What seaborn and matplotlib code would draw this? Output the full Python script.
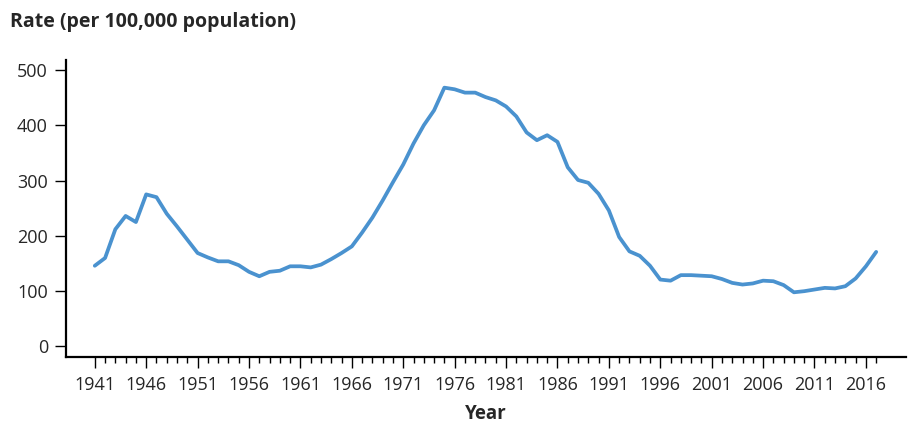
import numpy as np
import pandas as pd
import matplotlib
matplotlib.use("Agg")
import matplotlib.pyplot as plt
import seaborn as sns

# Gonorrhea rates per 100,000 population, 1941-2017
years = list(range(1941, 2018))
rates = [146, 160, 212, 236, 225, 275, 270, 240, 217, 193,
         169, 161, 154, 154, 147, 135, 127, 135, 137, 145,
         145, 143, 148, 158, 169, 181, 206, 233, 264, 297,
         329, 367, 400, 427, 468, 465, 459, 459, 451, 445,
         434, 416, 387, 373, 382, 370, 324, 301, 296, 276,
         246, 198, 172, 164, 146, 121, 119, 129, 129, 128,
         127, 122, 115, 112, 114, 119, 118, 111, 98, 100,
         103, 106, 105, 109, 123, 145, 171]
y_ticks = [0, 100, 200, 300, 400, 500]
x_major = list(range(1941, 2018, 5))

df = pd.DataFrame({"Year": years, "Rate": rates})

sns.set_style("ticks")
plt.rcParams['font.family'] = ['Open Sans', 'DejaVu Sans']

fig = plt.figure(figsize=(9.08, 4.28), dpi=100)
ax = fig.add_axes([66 / 908, 1 - 357 / 428, (906 - 66) / 908, (357 - 60) / 428])

sns.lineplot(data=df, x="Year", y="Rate", color="#4a92cf", linewidth=2.7, ax=ax)

ax.set_xlim(1938.2, 2019.9)
ax.set_ylim(-19, 518)
ax.set_yticks(y_ticks)
ax.set_xticks(x_major)
ax.set_xticks(years, minor=True)
ax.tick_params(axis="both", which="major", labelsize=13, length=8, width=1, color="black", pad=5)
ax.tick_params(axis="x", which="major", pad=6)
ax.tick_params(axis="x", which="minor", length=4, width=1, color="black")
for s in ["top", "right"]:
    ax.spines[s].set_visible(False)
for s in ["left", "bottom"]:
    ax.spines[s].set_linewidth(1.6)
    ax.spines[s].set_color("black")

ax.set_ylabel("")
ax.set_xlabel("Year", fontsize=13.5, fontweight="bold", labelpad=7)
fig.text(10 / 908, 1 - 22 / 428, "Rate (per 100,000 population)", fontsize=14,
         fontweight="bold", va="center", ha="left")

fig.savefig("out.png", dpi=100)
